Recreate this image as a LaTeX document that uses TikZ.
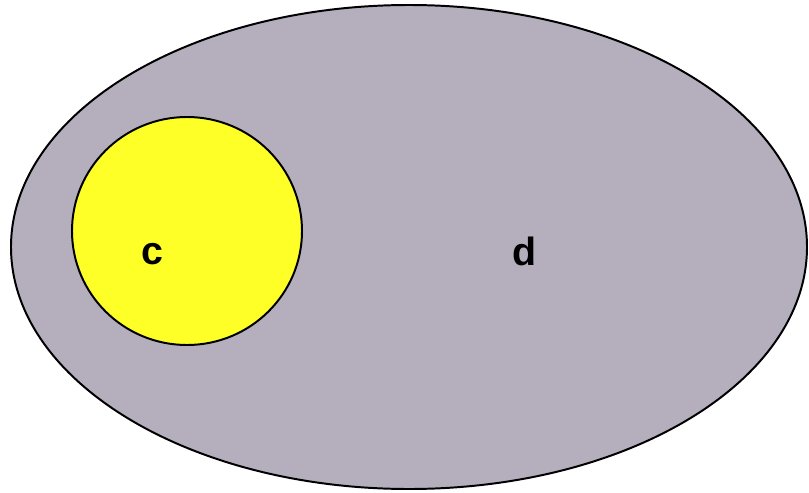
\documentclass[tikz,border=0pt]{standalone}
\usepackage{fontspec}
\setmainfont{Liberation Sans}
\usepackage{tikz}
\usetikzlibrary{
    positioning,              % Required for relative placement
    calc                      % Required for coordinate calculations
}
\definecolor{setgray}{RGB}{180,174,189}
\definecolor{setyellow}{RGB}{255,255,40}

\begin{document}
\begin{tikzpicture}[
        x=0.025cm, y=-0.025cm,
        % Styles
        outer set/.style={draw=black, line width=1.4pt, fill=setgray},
        inner set/.style={draw=black, line width=1.4pt, fill=setyellow},
        set label/.style={font=\bfseries\fontsize{28}{30}\selectfont, inner sep=0pt}
    ]

    % --- Frame ---
    \useasboundingbox (0,0) rectangle (809,493);

    % --- Coordinates ---
    \coordinate (D) at (409,247);   % Centre of the big set
    \coordinate (C) at (187,231);   % Centre of the small set

    % --- 1. Draw the sets ---
    \draw[outer set] (D) ellipse [x radius=398, y radius=242];
    \draw[inner set] (C) ellipse [x radius=115, y radius=114];

    % --- 2. Labels ---
    \node[set label] (LabelC) at (152,254) {c};
    \node[set label] (LabelD) at (525,251) {d};

\end{tikzpicture}
\end{document}
